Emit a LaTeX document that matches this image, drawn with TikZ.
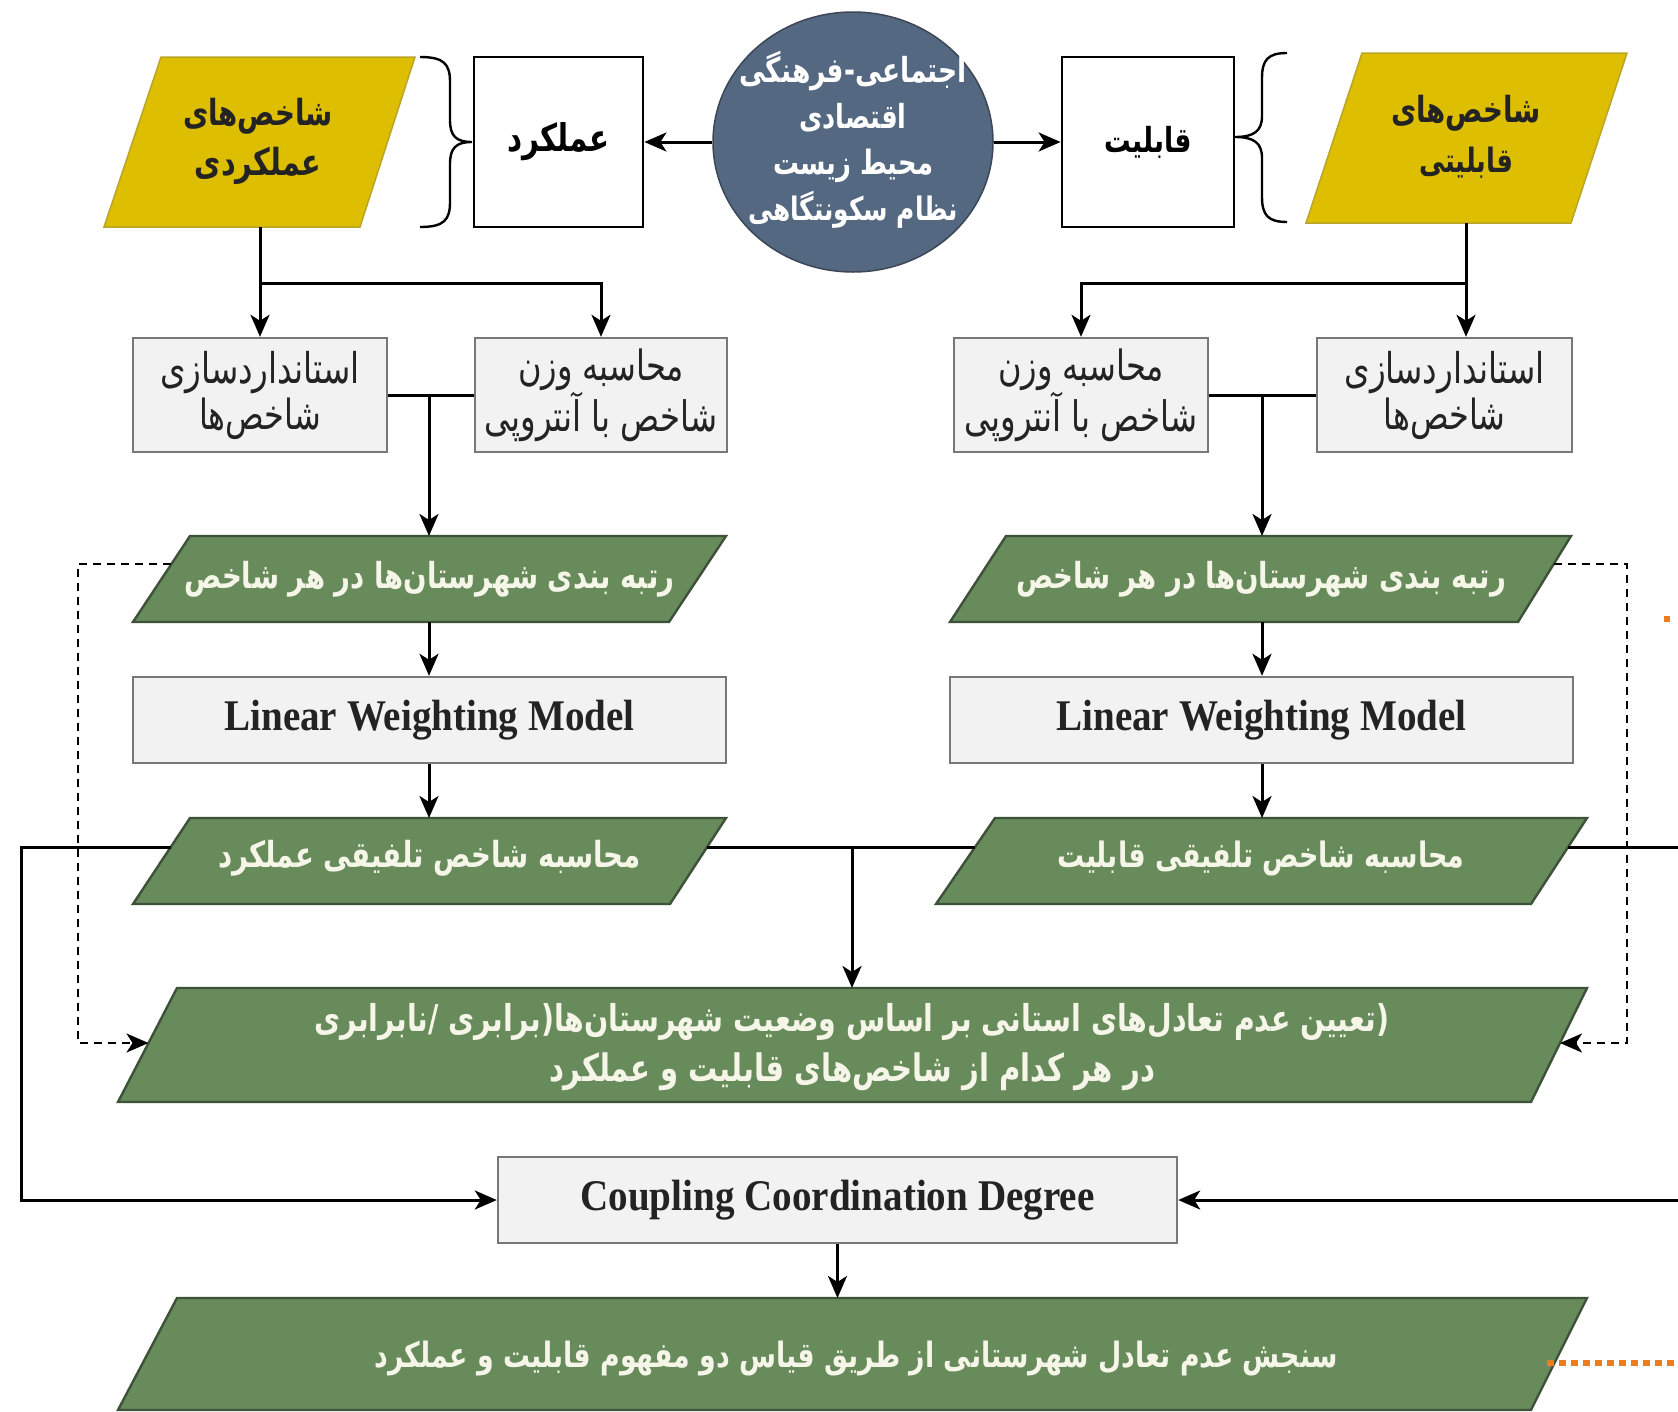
\documentclass[tikz,border=0pt]{standalone}
\usepackage{graphicx}
\usepackage{fontspec}
\setmainfont{Liberation Serif}
\newfontfamily\arabicfont[Script=Arabic]{DejaVu Sans}
\TeXXeTstate=1
\usetikzlibrary{arrows.meta,shapes.geometric}
\newcommand{\faw}[2]{\scalebox{1}[1.3]{\resizebox{#1pt}{!}{\arabicfont #2}}}
\newcommand{\fab}[2]{\scalebox{1}[1.3]{\resizebox{#1pt}{!}{\arabicfont\bfseries #2}}}
\newcommand{\enb}[2]{\scalebox{1}[1.12]{\resizebox{#1pt}{!}{\bfseries #2}}}
\definecolor{yel}{RGB}{221,190,0}
\definecolor{yelB}{RGB}{185,165,40}
\definecolor{grn}{RGB}{104,139,92}
\definecolor{grnB}{RGB}{62,82,58}
\definecolor{circF}{RGB}{84,104,130}
\definecolor{circB}{RGB}{60,70,85}
\definecolor{gryF}{RGB}{242,242,242}
\definecolor{gryB}{RGB}{120,120,120}
\definecolor{orng}{RGB}{235,125,30}
\definecolor{txtG}{RGB}{245,245,232}
\definecolor{txtD}{RGB}{35,35,35}
\tikzset{
  conn/.style={line width=3pt,-{Stealth[length=22pt,width=19pt,inset=6pt]}},
  plain/.style={line width=3pt},
  dconn/.style={line width=2.4pt,dash pattern=on 8pt off 6pt,-{Stealth[length=22pt,width=19pt,inset=6pt]}},
  bracepath/.style={line width=2.4pt},
  ybox/.style={fill=yel,draw=yelB,line width=1.5pt},
  gpara/.style={fill=grn,draw=grnB,line width=2.4pt},
  wbox/.style={draw=black,fill=white,line width=2.8pt,inner sep=0pt,text=black},
  gbox/.style={draw=gryB,fill=gryF,line width=2.4pt,inner sep=0pt,align=center,text=txtD,font=\fontsize{30}{46}\selectfont},
  circnode/.style={ellipse,fill=circF,draw=circB,line width=1.5pt,inner sep=0pt},
  ytxt/.style={inner sep=0pt,align=center,text=txtD,font=\fontsize{30}{50}\selectfont},
  ctxt/.style={inner sep=0pt,align=center,text=white,font=\fontsize{30}{46}\selectfont},
  gtxt/.style={inner sep=0pt,align=center,text=txtG,font=\fontsize{30}{50}\selectfont},
}
\begin{document}
\begin{tikzpicture}[x=1pt,y=-1pt]
\useasboundingbox[fill=white] (0,0) rectangle (1678,1411);

% ---- top row ----
\draw[ybox] (161,57) -- (415,57) -- (360,227) -- (104,227) -- cycle;
\node[ytxt] (yL) at (258,141) {\fab{150}{\beginR شاخص^^^^200cهای\endR}\\\fab{126}{\beginR عملکردی\endR}};
\draw[bracepath] (420,57) .. controls (444,57) and (450,64) .. (450,82) -- (450,120)
  .. controls (450,136) and (456,142) .. (472,142)
  .. controls (456,142) and (450,148) .. (450,164) -- (450,202)
  .. controls (450,220) and (444,227) .. (420,227);
\node[wbox,minimum width=169,minimum height=170] (amal) at (558.5,142) {\fab{102}{\beginR عملکرد\endR}};

\node[circnode,minimum width=280,minimum height=260] (env) at (853,142) {};
\node[ctxt] (envT) at (853,140) {\fab{228}{\beginR اجتماعی-فرهنگی\endR}\\\fab{107}{\beginR اقتصادی\endR}\\\fab{160}{\beginR محیط زیست\endR}\\\fab{210}{\beginR نظام سکونتگاهی\endR}};

\node[wbox,minimum width=172,minimum height=170] (qab) at (1148,142) {\fab{87}{\beginR قابلیت\endR}};
\draw[bracepath] (1287,53) .. controls (1268,53) and (1262,60) .. (1262,78) -- (1262,116)
  .. controls (1262,131) and (1254,137) .. (1235,137)
  .. controls (1254,137) and (1262,143) .. (1262,158) -- (1262,197)
  .. controls (1262,215) and (1268,222) .. (1287,222);
\draw[ybox] (1362,53) -- (1627,53) -- (1571,223) -- (1306,223) -- cycle;
\node[ytxt] (yR) at (1466,137) {\fab{150}{\beginR شاخص^^^^200cهای\endR}\\\fab{94}{\beginR قابلیتی\endR}};

\draw[conn] (env.west) -- (amal.east);
\draw[conn] (env.east) -- (qab.west);

% ---- grey boxes ----
\node[gbox,minimum width=254,minimum height=114] (stdL) at (260,395) {\faw{200}{\beginR استانداردسازی\endR}\\\faw{122}{\beginR شاخص^^^^200cها\endR}};
\node[gbox,minimum width=252,minimum height=114] (wL) at (601,395) {\faw{166}{\beginR محاسبه وزن\endR}\\\faw{233}{\beginR شاخص با آنتروپی\endR}};
\node[gbox,minimum width=254,minimum height=114] (wR) at (1081,395) {\faw{166}{\beginR محاسبه وزن\endR}\\\faw{233}{\beginR شاخص با آنتروپی\endR}};
\node[gbox,minimum width=255,minimum height=114] (stdR) at (1444.5,395) {\faw{200}{\beginR استانداردسازی\endR}\\\faw{122}{\beginR شاخص^^^^200cها\endR}};

\coordinate (yLb) at (260,227);
\coordinate (jL) at (260,283);
\coordinate (yRb) at (1466,223);
\coordinate (jR) at (1466,283);
\draw[conn] (yLb) -- (stdL.north);
\draw[conn] (jL) -| (wL.north);
\draw[conn] (yRb) -- (yRb |- stdR.north);
\draw[conn] (jR) -| (wR.north);
\draw[plain] (stdL.east) -- (wL.west);
\draw[plain] (wR.east) -- (stdR.west);
\coordinate (mL) at (429,395);
\coordinate (mR) at (1262,395);

% ---- left column ----
\draw[gpara] (190,536) -- (726,536) -- (669,622) -- (133,622) -- cycle;
\node[gtxt] (g1L) at (429.5,579) {\fab{490}{\beginR رتبه بندی شهرستان^^^^200cها در هر شاخص\endR}};
\coordinate (g1Lt) at (429,536);
\coordinate (g1Lb) at (429,622);
\node[gbox,minimum width=593,minimum height=86] (lwmL) at (429.5,720) {\enb{410}{Linear Weighting Model}};
\draw[gpara] (190,818) -- (726,818) -- (670,904) -- (133,904) -- cycle;
\node[gtxt] (g2L) at (429.5,858) {\fab{423}{\beginR محاسبه شاخص تلفیقی عملکرد\endR}};
\coordinate (g2Lt) at (429,818);

\draw[conn] (mL) -- (g1Lt);
\draw[conn] (g1Lb) -- (g1Lb |- lwmL.north);
\draw[conn] (g2Lt |- lwmL.south) -- (g2Lt);

% ---- right column ----
\draw[gpara] (1006,536) -- (1571,536) -- (1518,622) -- (950,622) -- cycle;
\node[gtxt] (g1R) at (1261,579) {\fab{490}{\beginR رتبه بندی شهرستان^^^^200cها در هر شاخص\endR}};
\coordinate (g1Rt) at (1262,536);
\coordinate (g1Rb) at (1262,622);
\node[gbox,minimum width=623,minimum height=86] (lwmR) at (1261.5,720) {\enb{410}{Linear Weighting Model}};
\draw[gpara] (995,818) -- (1587,818) -- (1531,904) -- (936,904) -- cycle;
\node[gtxt] (g2R) at (1261,858) {\fab{407}{\beginR محاسبه شاخص تلفیقی قابلیت\endR}};
\coordinate (g2Rt) at (1262,818);

\draw[conn] (mR) -- (g1Rt);
\draw[conn] (g1Rb) -- (g1Rb |- lwmR.north);
\draw[conn] (g2Rt |- lwmR.south) -- (g2Rt);

% ---- big green ----
\draw[gpara] (177,988) -- (1587,988) -- (1531,1102) -- (118,1102) -- cycle;
\node[gtxt] (bg) at (852,1047) {\fab{1075}{\beginR برابری /نابرابری\endR(\beginR تعیین عدم تعادل^^^^200cهای استانی بر اساس وضعیت شهرستان^^^^200cها\endR(}\\\fab{606}{\beginR در هر کدام از شاخص^^^^200cهای قابلیت و عملکرد\endR}};
\coordinate (bgT) at (852,988);
\coordinate (bgW) at (148.5,1043);
\coordinate (bgE) at (1560,1043);

% ---- coupling ----
\node[gbox,minimum width=679,minimum height=86] (ccd) at (837.5,1200) {\enb{514}{Coupling Coordination Degree}};

% ---- final ----
\draw[gpara] (177,1298) -- (1587,1298) -- (1531,1410) -- (118,1410) -- cycle;
\node[gtxt] (fin) at (856,1359) {\fab{963}{\beginR سنجش عدم تعادل شهرستانی از طریق قیاس دو مفهوم قابلیت و عملکرد\endR}};
\coordinate (finT) at (837.5,1298);
\draw[conn] (ccd.south) -- (finT);

% ---- connectors between columns ----
\coordinate (g2Lw) at (170.8,847);
\coordinate (g2Le) at (706.8,847);
\coordinate (g2Rw) at (975.1,847);
\coordinate (g2Re) at (1568,847);
\coordinate (cL) at (21,847);
\coordinate (cR) at (1700,847);
\coordinate (jM) at (852,847);
\draw[conn] (g2Lw) -- (cL) |- (ccd.west);
\draw[conn] (g2Re) -- (cR) |- (ccd.east);
\draw[plain] (g2Le) -- (g2Rw);
\draw[conn] (jM) -- (bgT);

% ---- dashed feedback ----
\coordinate (g1Lw) at (171.4,564);
\coordinate (dL) at (78,564);
\coordinate (g1Re) at (1553.7,564);
\coordinate (dR) at (1627,564);
\draw[dconn] (g1Lw) -- (dL) |- (bgW);
\draw[dconn] (g1Re) -- (dR) |- (bgE);

% ---- orange marks ----
\draw[orng,line width=6pt,dash pattern=on 7pt off 5pt] (1547,1363) -- (1690,1363);
\fill[orng] (1664,616) rectangle (1670,622);
\end{tikzpicture}
\end{document}
